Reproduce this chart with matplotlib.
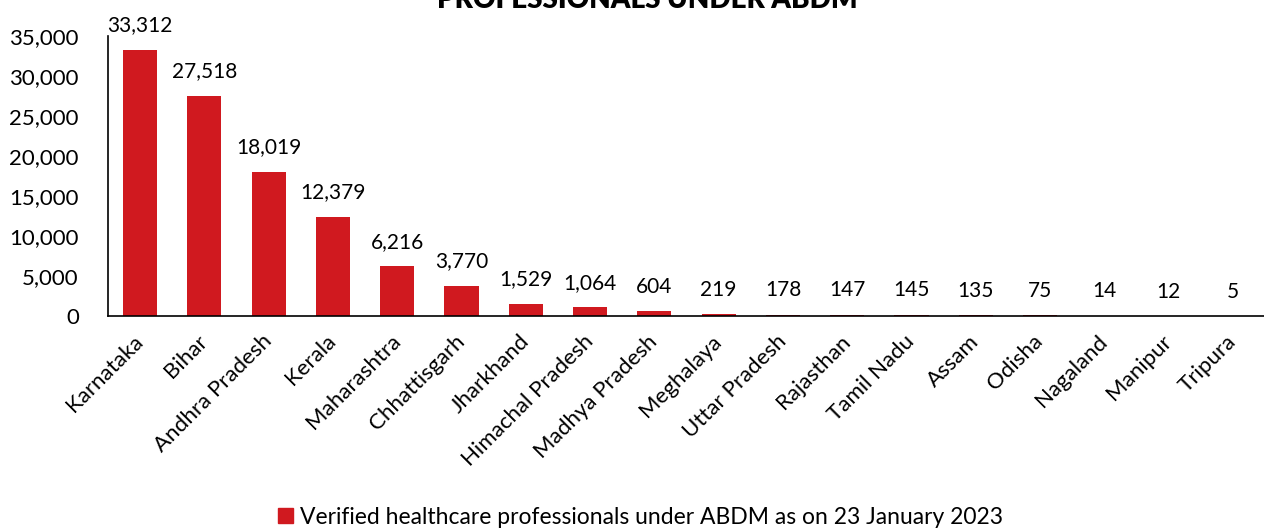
import matplotlib.pyplot as plt
from matplotlib.patches import Patch

states = ["Karnataka", "Bihar", "Andhra Pradesh", "Kerala", "Maharashtra",
          "Chhattisgarh", "Jharkhand", "Himachal Pradesh", "Madhya Pradesh",
          "Meghalaya", "Uttar Pradesh", "Rajasthan", "Tamil Nadu", "Assam",
          "Odisha", "Nagaland", "Manipur", "Tripura"]
verified = [33312, 27518, 18019, 12379, 6216, 3770, 1529, 1064, 604,
            219, 178, 147, 145, 135, 75, 14, 12, 5]
yticks = [0, 5000, 10000, 15000, 20000, 25000, 30000, 35000]
series_name = "Verified healthcare professionals under ABDM as on 23 January 2023"

red = "#D0191F"
plt.rcParams["font.family"] = ["Lato", "DejaVu Sans"]

fig = plt.figure(figsize=(12.64, 5.28), dpi=100)
ax = fig.add_axes([108 / 1264, 1 - 316 / 528, 1157 / 1264, 280 / 528])

x = range(len(states))
bars = ax.bar(x, verified, width=0.53, color=red)
for xi, v in zip(x, verified):
    ax.text(xi, v + 1800, f"{v:,}", ha="center", va="bottom", fontsize=15)

ax.set_xlim(-0.5, len(states) - 0.5)
ax.set_ylim(0, 35000)
ax.set_yticks(yticks)
ax.set_yticklabels([f"{t:,}" for t in yticks], fontsize=16)
ax.set_xticks(list(x))
ax.set_xticklabels(states, rotation=45, ha="right", va="center",
                   rotation_mode="anchor", fontsize=16)
ax.tick_params(axis="y", length=0, pad=21)
ax.tick_params(axis="x", length=0, pad=16)
for s in ["top", "right"]:
    ax.spines[s].set_visible(False)
ax.spines["left"].set_linewidth(1.2)
ax.spines["bottom"].set_linewidth(1.2)

fig.text(0.512, 1 - 8 / 528, "PROFESSIONALS UNDER ABDM", ha="center", va="baseline",
         fontsize=20, fontweight="heavy")

fig.legend(handles=[Patch(color=red, label=series_name)], loc="center",
           bbox_to_anchor=(0.507, 1 - 517 / 528), frameon=False, fontsize=16.5,
           handlelength=0.65, handleheight=0.65, handletextpad=0.3)

fig.savefig("out.png", dpi=100)
